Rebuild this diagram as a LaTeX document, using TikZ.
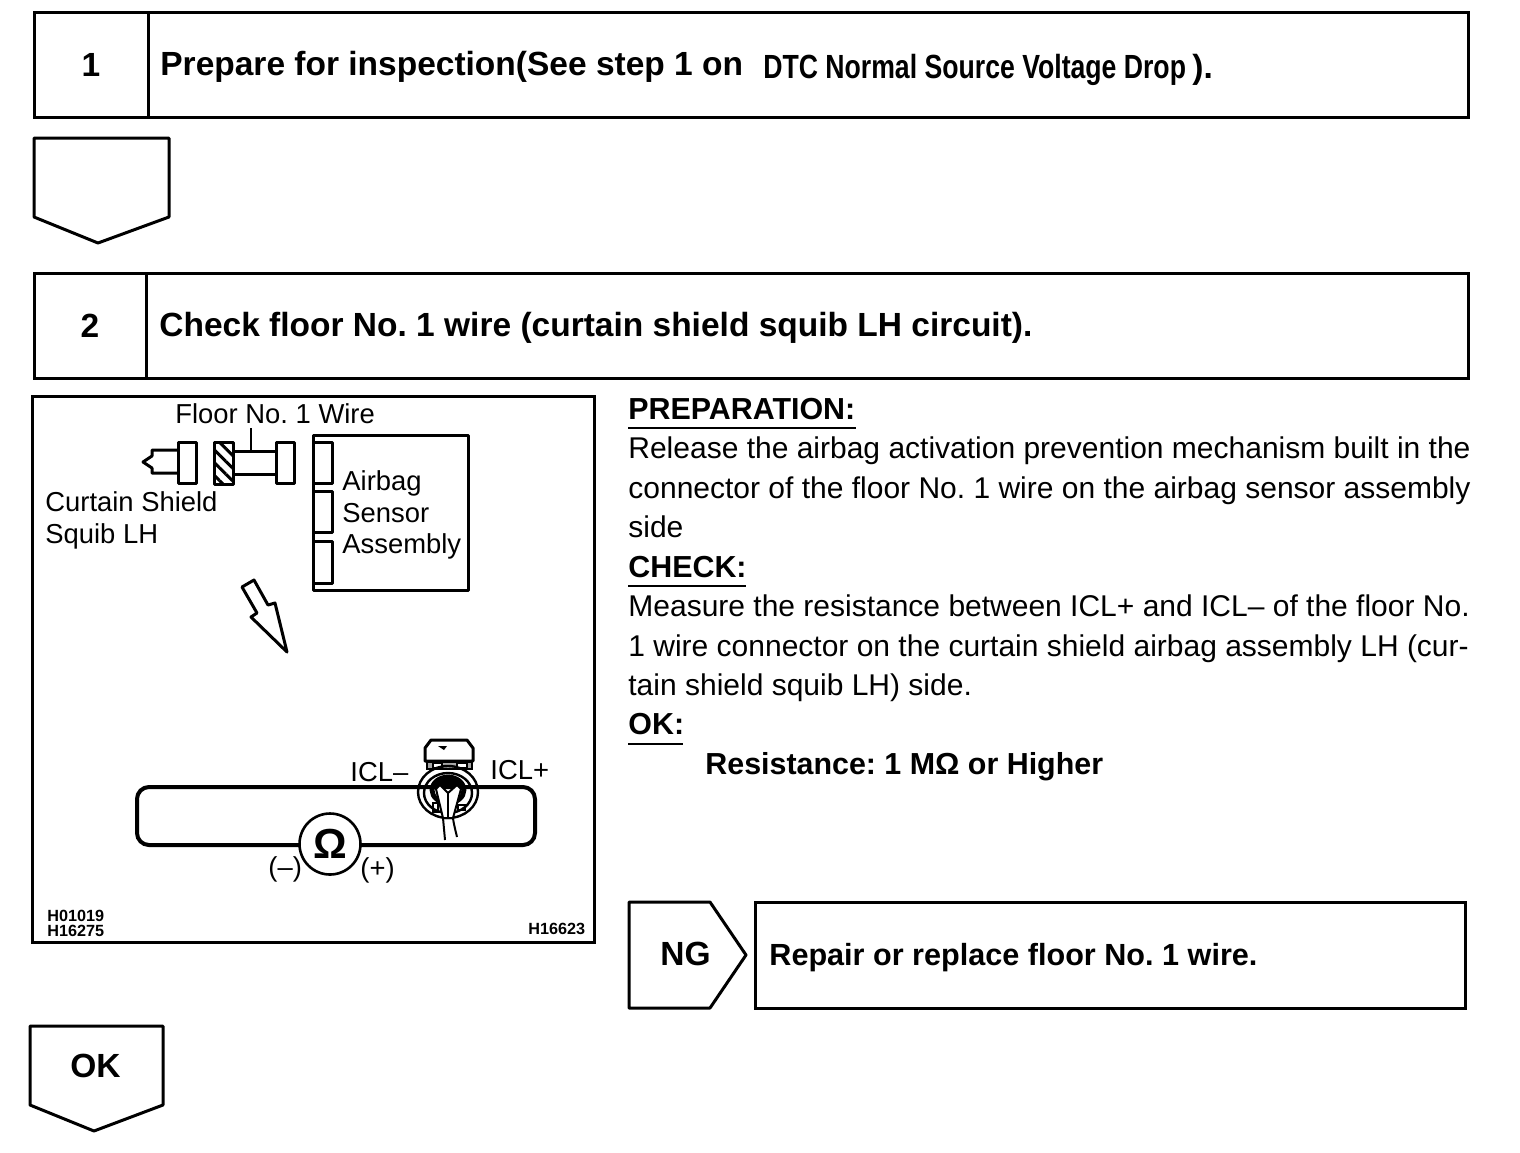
\documentclass[tikz,border=0pt]{standalone}
\usepackage{fontspec}
\setmainfont{Liberation Sans}
\usetikzlibrary{positioning,patterns.meta}
\frenchspacing

\begin{document}
\begin{tikzpicture}[
      x=0.5pt, y=-0.5pt,
      cell/.style={draw, line width=1.5pt, inner sep=0pt, outer sep=0pt, minimum height=52.5pt},
      title/.style={anchor=base west, inner sep=0pt, font=\fontsize{16.75}{20}\bfseries\selectfont},
      body/.style={anchor=base west, inner sep=0pt, font=\fontsize{15}{18}\selectfont},
      heading/.style={anchor=base west, inner sep=0pt, font=\fontsize{15.2}{18}\bfseries\selectfont},
      lab/.style={anchor=base west, inner sep=0pt, font=\fontsize{13.7}{16}\selectfont},
      code/.style={anchor=base west, inner sep=0pt, font=\fontsize{8.1}{9}\bfseries\selectfont},
      part/.style={line width=1.5pt, line join=round},
      head/.style={line width=1pt}
    ]
      \useasboundingbox (0,0) rectangle (1520,1152);

      % Step 1
      \node[cell, minimum width=57pt, anchor=north west, font=\fontsize{16.75}{20}\bfseries\selectfont] (numone) at (34,12) {1};
      \node[cell, minimum width=660pt, right=0pt of numone] (cellone) {};
      \node[title] (titleone) at (160,75) {Prepare for inspection(See step 1 on};
      \node[title, xscale=0.795, transform shape] (dtcname) at (763,78) {DTC Normal Source Voltage Drop};
      \node[title] (closeone) at (1192,78) {).};
      \draw[line width=1.5pt, line join=round] (34,138) -- (169,138) -- (169,217) -- (98,243) -- (34,217) -- cycle;

      % Step 2
      \node[cell, minimum width=56pt, anchor=north west, font=\fontsize{16.75}{20}\bfseries\selectfont] (numtwo) at (34,273) {2};
      \node[cell, minimum width=661pt, right=0pt of numtwo] (celltwo) {};
      \node[title] (titletwo) at (159,336) {Check floor No. 1 wire (curtain shield squib LH circuit).};

      % Picture panel
      \node[cell, minimum width=281pt, minimum height=273pt, anchor=north west] (panel) at (32,396) {};
      \node[lab] (floorlab) at (175,423) {Floor No. 1 Wire};
      \node[lab] (squibone) at (45,511) {Curtain Shield};
      \node[lab] (squibtwo) at (45,543) {Squib LH};
      \draw[part] (178,450) -- (152,450) -- (152,456) -- (143,462) -- (152,468) -- (152,473) -- (178,473);
      \draw[part] (178,442) rectangle (196,483);
      \draw[part, pattern={Lines[angle=-45,distance=4.5pt,line width=1.5pt]}] (214,442) rectangle (233,484);
      \draw[part] (233,451) -- (276,451) (233,474) -- (276,474);
      \draw[part] (276,442) rectangle (294,483);
      \draw[line width=0.8pt] (251,428) -- (251,451);

      % Sensor
      \draw[part] (313,435) rectangle (468,590);
      \draw[part] (313,442) rectangle (332,483);
      \draw[part] (313,491) rectangle (332,532);
      \draw[part] (313,541) rectangle (332,583);
      \node[lab] (sensorone) at (342,490) {Airbag};
      \node[lab] (sensortwo) at (342,522) {Sensor};
      \node[lab] (sensorthree) at (342,553) {Assembly};
      \draw[part] (242,587) -- (254,580) -- (268,605) -- (275,603) -- (287,652) -- (251,617) -- (257,613) -- cycle;

      % Meter loop
      \draw[line width=2pt, rounded corners=6pt] (137,787) rectangle (535,845);
      \node[circle, draw, fill=white, line width=1.3pt, minimum size=30.5pt, inner sep=0pt, font=\fontsize{21}{24}\bfseries\selectfont] (meter) at (330,844) {Ω};
      \node[lab] (minus) at (268,876) {(–)};
      \node[lab] (plus) at (360,877) {(+)};
      \node[lab] (iclminus) at (350,781) {ICL–};
      \node[lab] (iclplus) at (490,779) {ICL+};

      % Connector
      \draw[part, fill=white] (425,761) -- (425,748) -- (431,740) -- (467,740) -- (473,748) -- (473,761) -- cycle;
      \draw[line width=1pt, fill=black!35] (427,762) rectangle (472,769);
      \draw[line width=0.8pt, fill=white] (433,763) rectangle (442,768) (457,763) rectangle (467,768);
      \fill (438,746) -- (447,746) -- (444,750) -- cycle;
      \draw[line width=1.2pt] (448,792) ellipse (30 and 26);
      \draw[line width=1.2pt] (448,793) ellipse (24 and 20);
      \draw[line width=2.4pt] (448,790) ellipse (16 and 13);
      \fill (434,782) .. controls (442,775) and (454,775) .. (462,782) -- (458,787) -- (438,787) -- cycle;
      \draw[line width=1pt, fill=white] (440,785) -- (448,793) -- (457,785) -- (461,789) -- (453,818) -- (443,818) -- (436,789) -- cycle;
      \draw[line width=1pt] (448,793) -- (448,818);
      \draw[line width=0.8pt] (433,803) rectangle (438,812) (458,805) rectangle (465,810);
      \draw[line width=1pt] (443,818) -- (445,840) (453,818) .. controls (454,826) and (456,832) .. (457,837);

      \node[code] (codeone) at (47,921) {H01019};
      \node[code] (codetwo) at (47,936) {H16275};
      \node[code] (codethree) at (528,934) {H16623};

      % Preparation
      \node[heading] (prephead) at (628,419) {PREPARATION:};
      \draw[head] (628,428) -- (856,428);
      \node[body] (prepone) at (628,458) {Release the airbag activation prevention mechanism built in the};
      \node[body] (preptwo) at (628,498) {connector of the floor No. 1 wire on the airbag sensor assembly};
      \node[body] (prepthree) at (628,537) {side};

      % Check
      \node[heading] (checkhead) at (628,577) {CHECK:};
      \draw[head] (628,586) -- (746,586);
      \node[body] (checkone) at (628,616) {Measure the resistance between ICL+ and ICL– of the floor No.};
      \node[body] (checktwo) at (628,656) {1 wire connector on the curtain shield airbag assembly LH (cur-};
      \node[body] (checkthree) at (628,695) {tain shield squib LH) side.};

      % OK
      \node[heading] (okhead) at (628,734) {OK:};
      \draw[head] (628,744) -- (683,744);
      \node[heading] (okvalue) at (705,774) {Resistance: 1 MΩ or Higher};

      % NG
      \draw[line width=1.5pt, line join=round] (629,902) -- (710,902) -- (746,955) -- (710,1008) -- (629,1008) -- cycle;
      \node[title] (nglab) at (660,965) {NG};
      \node[cell, minimum width=355pt, minimum height=53pt, anchor=north west] (ngbox) at (755,902) {};
      \node[title, font=\fontsize{15.3}{20}\bfseries\selectfont] (ngtext) at (769,965) {Repair or replace floor No. 1 wire.};

      % OK arrow
      \draw[line width=1.5pt, line join=round] (30,1026) -- (163,1026) -- (163,1105) -- (94,1131) -- (30,1105) -- cycle;
      \node[title] (oklab) at (70,1077) {OK};
    \end{tikzpicture}
\end{document}
